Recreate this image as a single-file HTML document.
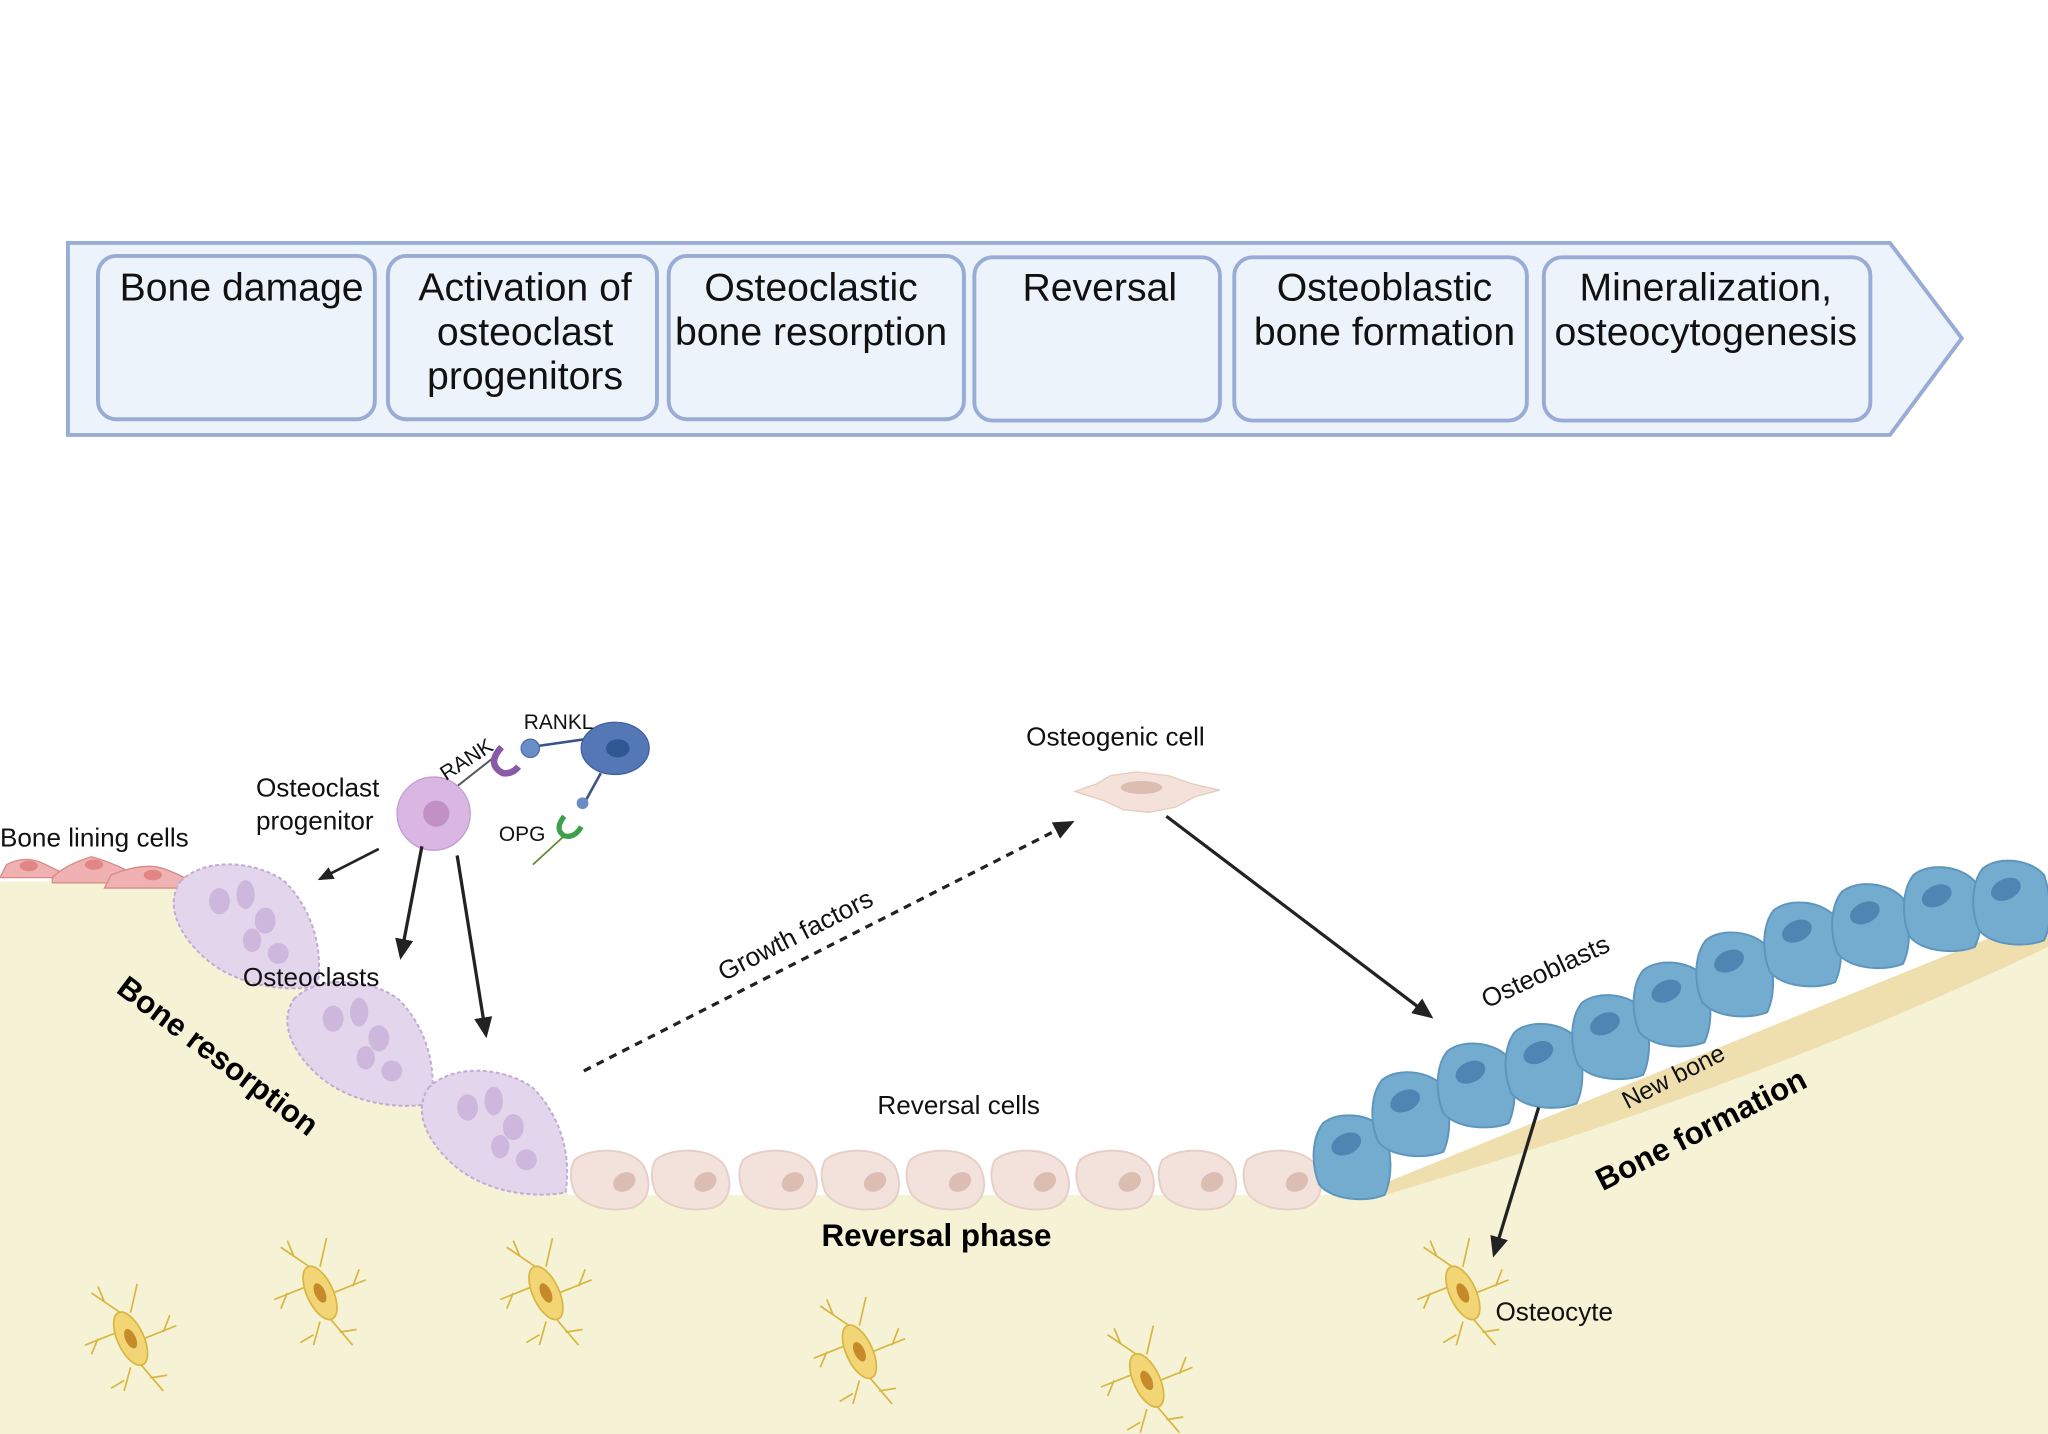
<!DOCTYPE html>
<html><head><meta charset="utf-8"><style>
html,body{margin:0;padding:0;background:#fff;}
svg{display:block;font-family:"Liberation Sans",sans-serif;}
</style></head><body>
<svg width="2048" height="1434" viewBox="0 0 1568 1098" preserveAspectRatio="none" xmlns="http://www.w3.org/2000/svg">
<defs>
<marker id="ah" markerWidth="16" markerHeight="14" refX="13" refY="7" orient="auto" markerUnits="userSpaceOnUse" viewBox="0 0 16 14"><path d="M0,0 L16,7 L0,14 z" fill="#222"/></marker>
<marker id="ahs" markerWidth="12" markerHeight="10" refX="10" refY="5" orient="auto" markerUnits="userSpaceOnUse" viewBox="0 0 12 10"><path d="M0,0 L12,5 L0,10 z" fill="#222"/></marker>
<g id="ocl"><path d="M-50,-35 C-30,-55 10,-50 30,-35 C50,-15 60,15 55,45 C30,50 -10,45 -35,20 C-55,0 -60,-20 -50,-35z" fill="#e3d6ec" stroke="#c3a9d4" stroke-width="1.5" stroke-dasharray="3 2"/>
<ellipse cx="-20" cy="-20" rx="8" ry="10" fill="#cdb7dc"/><ellipse cx="0" cy="-25" rx="7" ry="11" fill="#cdb7dc"/><ellipse cx="15" cy="-5" rx="8" ry="10" fill="#cdb7dc"/><ellipse cx="5" cy="10" rx="7" ry="9" fill="#cdb7dc"/><ellipse cx="25" cy="20" rx="8" ry="8" fill="#cdb7dc"/></g>
<g id="rev"><path d="M-28,-15 C-15,-25 15,-25 25,-10 C32,5 28,18 15,22 C0,25 -20,22 -28,10 C-32,0 -32,-8 -28,-15z" fill="#f3e2dc" stroke="#e6cfc6" stroke-width="1.5"/><ellipse cx="10" cy="2" rx="9" ry="7" fill="#dcbdb2" transform="rotate(-30 10 2)"/></g>
<g id="obl"><path d="M-22,-25 C-10,-35 15,-32 25,-20 C30,-5 32,15 25,30 C10,36 -15,34 -25,22 C-32,5 -30,-15 -22,-25z" fill="#74acd0" stroke="#5d96bd" stroke-width="1.5"/><ellipse cx="0" cy="-10" rx="12" ry="8" fill="#4d86b2" transform="rotate(-25)"/></g>
<g id="ocy" stroke="#d9b640" stroke-width="1.3" fill="none"><path d="M-8,-20 L-30,-35 M-20,-28 L-25,-40 M8,20 L25,40 M15,30 L28,28 M-10,-5 L-35,5 M-25,0 L-30,12 M10,0 L35,-10 M25,-5 L30,-18 M0,-20 L5,-42 M0,22 L-5,40 M-5,32 L-15,38"/><ellipse cx="0" cy="0" rx="10" ry="22" fill="#f2d676" transform="rotate(-25)"/><ellipse cx="0" cy="0" rx="4" ry="8" fill="#c68a2a" stroke="none" transform="rotate(-25)"/></g>
</defs>

<path d="M52,186 L1447,186 L1502,259 L1447,333 L52,333 Z" fill="#ecf3fb" stroke="#98acd6" stroke-width="3"/>
<g fill="#ecf3fb" stroke="#98acd6" stroke-width="3">
<rect x="75" y="196" width="212" height="125" rx="14"/>
<rect x="297" y="196" width="206" height="125" rx="14"/>
<rect x="512" y="196" width="226" height="125" rx="14"/>
<rect x="746" y="197" width="188" height="125" rx="14"/>
<rect x="945" y="197" width="224" height="125" rx="14"/>
<rect x="1182" y="197" width="250" height="125" rx="14"/>
</g>
<g font-size="30" text-anchor="middle" fill="#111">
<text x="185" y="230">Bone damage</text>
<text x="402" y="230">Activation of</text><text x="402" y="264">osteoclast</text><text x="402" y="298">progenitors</text>
<text x="621" y="230">Osteoclastic</text><text x="621" y="264">bone resorption</text>
<text x="842" y="230">Reversal</text>
<text x="1060" y="230">Osteoblastic</text><text x="1060" y="264">bone formation</text>
<text x="1306" y="230">Mineralization,</text><text x="1306" y="264">osteocytogenesis</text>
</g>

<path d="M0,675 L130,675 L435,915 L1040,915 L1568,715 L1568,1098 L0,1098 Z" fill="#f5f2d5"/>
<path d="M1030,918 L1568,700 L1568,725 Q1350,830 1050,918 Z" fill="#efdfae"/>

<g fill="#efb1b1" stroke="#d88a8a" stroke-width="1"><path d="M0,672 L5,662 Q20,654 35,662 L55,672 Z"/><path d="M40,672 Q50,662 70,656 Q85,660 100,668 L100,676 L40,676 Z"/><path d="M80,680 L85,670 Q110,660 125,665 Q145,672 152,680 Z"/></g>
<g fill="#e28585"><ellipse cx="22" cy="663" rx="7" ry="4"/><ellipse cx="72" cy="662" rx="7" ry="4"/><ellipse cx="117" cy="670" rx="7" ry="4"/></g>

<use href="#ocy" x="100" y="1025"/><use href="#ocy" x="245" y="990"/><use href="#ocy" x="418" y="990"/><use href="#ocy" x="658" y="1035"/><use href="#ocy" x="878" y="1057"/><use href="#ocy" x="1120" y="990"/>

<use href="#ocl" x="188" y="710"/><use href="#ocl" x="275" y="800"/><use href="#ocl" x="378" y="868"/>

<use href="#rev" x="468" y="903"/><use href="#rev" x="530" y="903"/><use href="#rev" x="597" y="903"/><use href="#rev" x="660" y="903"/><use href="#rev" x="725" y="903"/><use href="#rev" x="790" y="903"/><use href="#rev" x="855" y="903"/><use href="#rev" x="918" y="903"/><use href="#rev" x="983" y="903"/>

<use href="#obl" x="1035" y="885"/><use href="#obl" x="1080" y="852"/><use href="#obl" x="1130" y="830"/><use href="#obl" x="1182" y="815"/><use href="#obl" x="1233" y="793"/><use href="#obl" x="1280" y="768"/><use href="#obl" x="1328" y="745"/><use href="#obl" x="1380" y="722"/><use href="#obl" x="1432" y="708"/><use href="#obl" x="1487" y="695"/><use href="#obl" x="1540" y="690"/>

<line x1="350" y1="602" x2="378" y2="580" stroke="#555" stroke-width="1.5"/>
<path d="M384,572 Q372,585 385,592 Q392,593 397,587" fill="none" stroke="#8a5aa8" stroke-width="5"/>
<circle cx="332" cy="623" r="28" fill="#d9b7e2" stroke="#c49bd2"/>
<circle cx="334" cy="623" r="10" fill="#c190c4"/>
<circle cx="406" cy="573" r="7" fill="#6a8cc9" stroke="#4f6fae"/>
<line x1="413" y1="571" x2="448" y2="566" stroke="#3b5488" stroke-width="2"/>
<ellipse cx="471" cy="573" rx="26" ry="20" fill="#5478b5" stroke="#3f609c"/>
<ellipse cx="473" cy="573" rx="9" ry="7" fill="#2f5790"/>
<line x1="460" y1="592" x2="449" y2="612" stroke="#3b5488" stroke-width="2"/>
<circle cx="446" cy="615" r="4.5" fill="#6a8cc9"/>
<path d="M432,625 Q424,635 432,640 Q440,642 445,633" fill="none" stroke="#3ca048" stroke-width="4"/>
<line x1="432" y1="640" x2="408" y2="662" stroke="#5a8a2a" stroke-width="1.3"/>

<g stroke="#222" stroke-width="2.5" fill="none">
<line x1="290" y1="650" x2="245" y2="673" marker-end="url(#ahs)" stroke-width="2"/>
<line x1="323" y1="648" x2="307" y2="732" marker-end="url(#ah)"/>
<line x1="350" y1="655" x2="372" y2="792" marker-end="url(#ah)"/>
<line x1="447" y1="820" x2="820" y2="630" stroke-dasharray="6 5" marker-end="url(#ah)"/>
<line x1="893" y1="625" x2="1095" y2="778" marker-end="url(#ah)"/>
<line x1="1178" y1="848" x2="1144" y2="960" marker-end="url(#ah)"/>
</g>

<path d="M823,606 L840,600 L850,594 L870,591 L895,594 L912,600 L934,605 L915,610 L900,618 L880,622 L860,620 L845,613 Z" fill="#f4e2da" stroke="#e4cbbf"/>
<ellipse cx="874" cy="603" rx="16" ry="5" fill="#dcbdb2"/>

<g fill="#111" font-size="20">
<text x="0" y="648">Bone lining cells</text>
<text x="196" y="610">Osteoclast</text><text x="196" y="635">progenitor</text>
<text x="186" y="755">Osteoclasts</text>
<text x="854" y="571" text-anchor="middle">Osteogenic cell</text>
<text x="734" y="853" text-anchor="middle">Reversal cells</text>
<text x="1145" y="1011">Osteocyte</text>
<text transform="translate(612,722) rotate(-27)" text-anchor="middle">Growth factors</text>
<text transform="translate(1186,750) rotate(-25)" text-anchor="middle">Osteoblasts</text>
<text transform="translate(1284,830) rotate(-27)" text-anchor="middle" font-size="19">New bone</text>
</g>
<g fill="#111" font-size="16">
<text transform="translate(360,586) rotate(-33)" text-anchor="middle">RANK</text>
<text x="401" y="558">RANKL</text>
<text x="382" y="644">OPG</text>
</g>
<g fill="#000" font-size="24" font-weight="bold" text-anchor="middle">
<text x="717" y="954">Reversal phase</text>
<text transform="translate(162,815) rotate(37)">Bone resorption</text>
<text transform="translate(1306,872) rotate(-27)">Bone formation</text>
</g>
</svg>
</body></html>
